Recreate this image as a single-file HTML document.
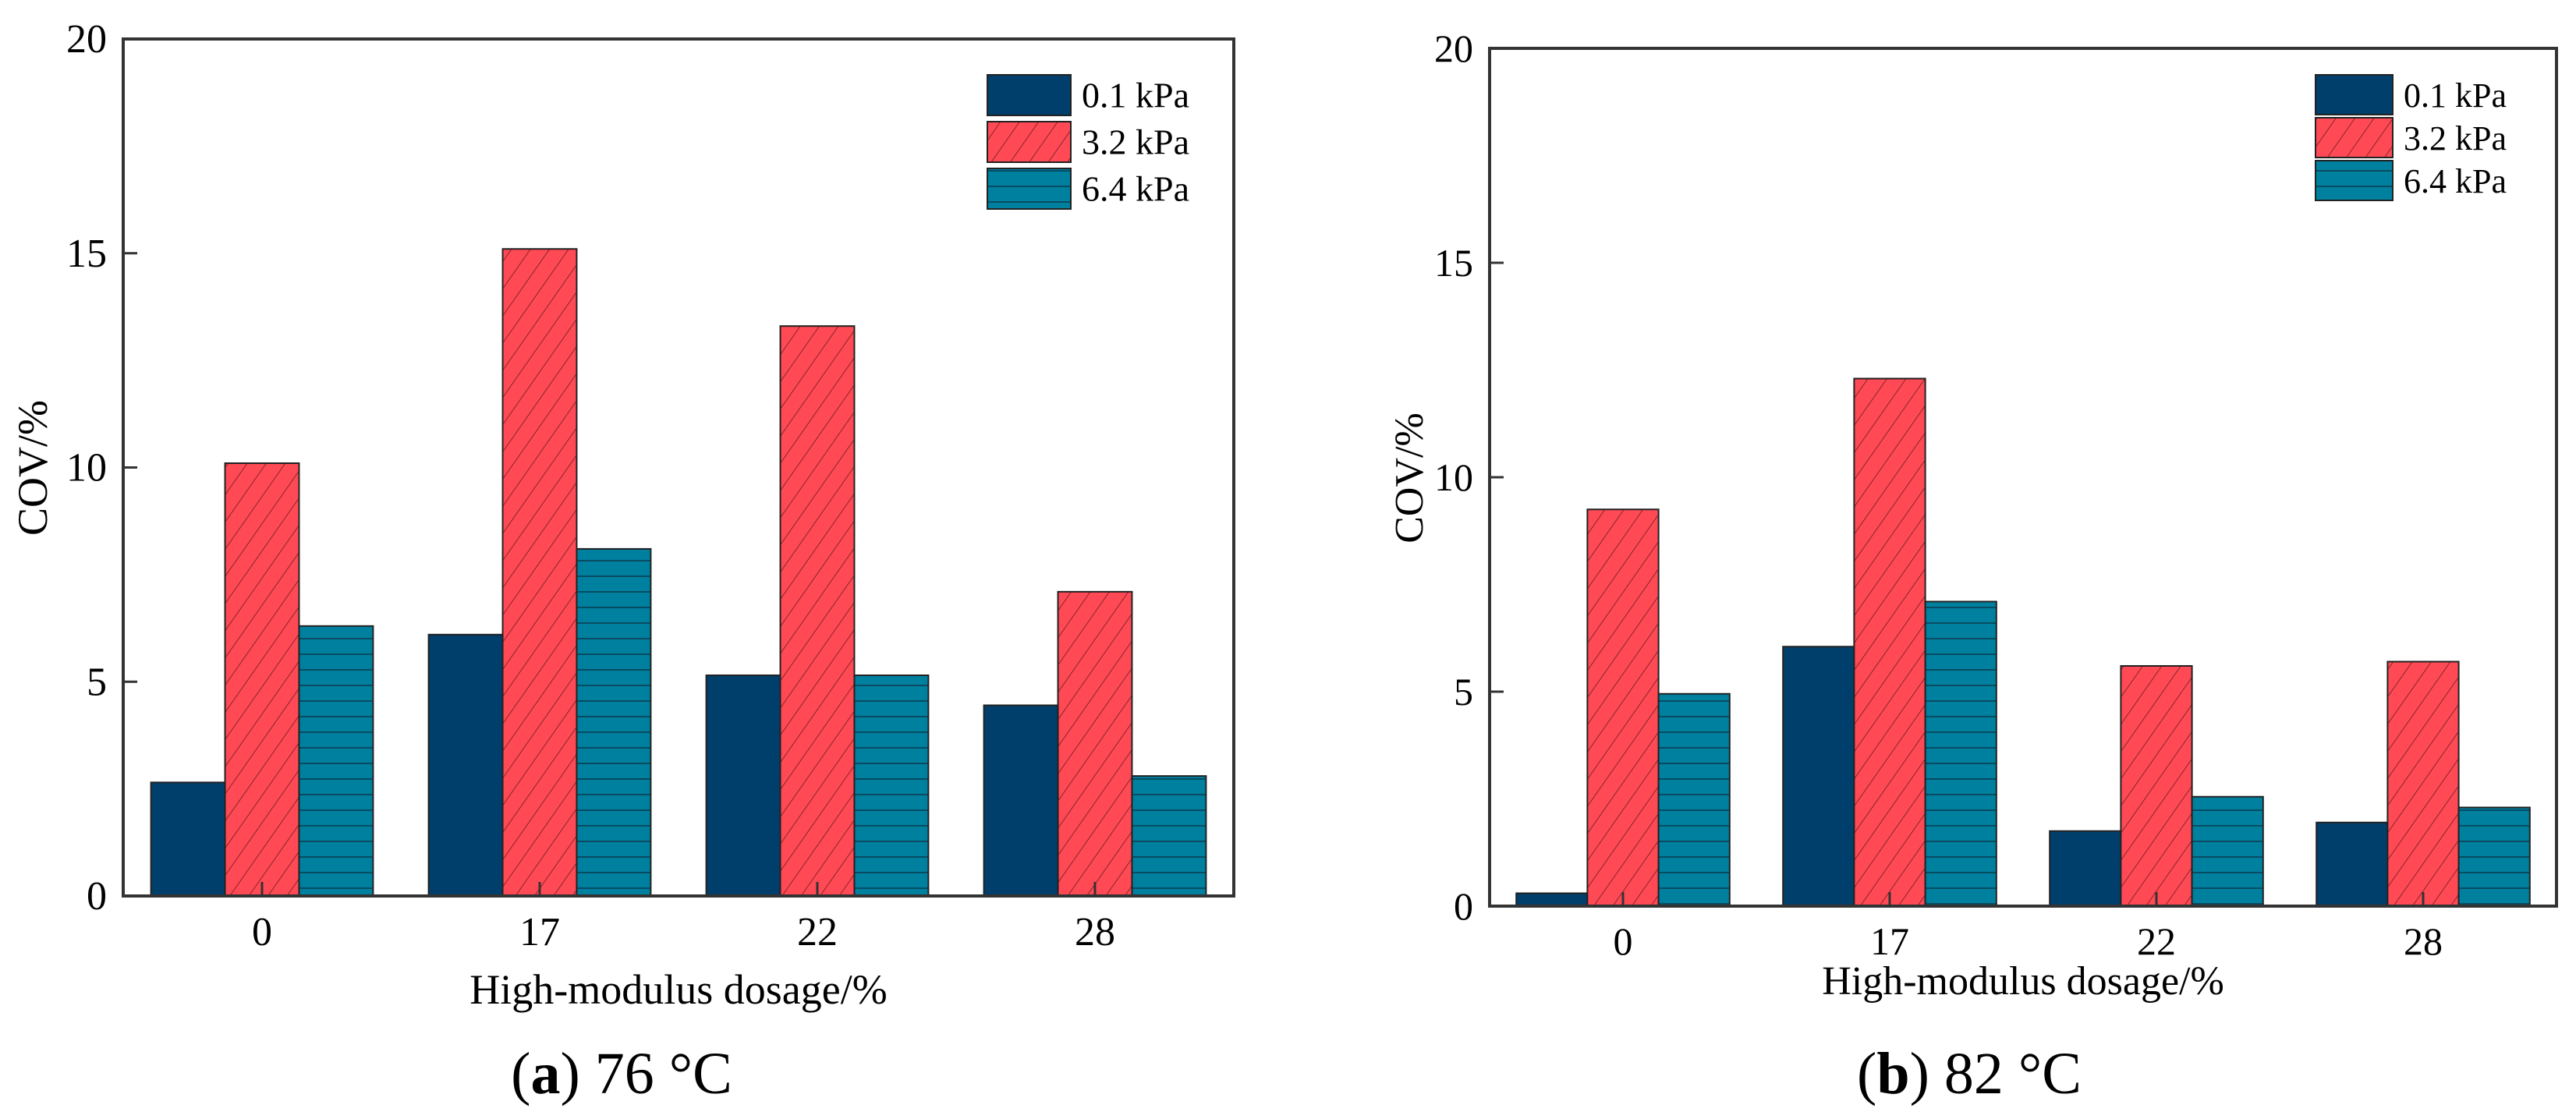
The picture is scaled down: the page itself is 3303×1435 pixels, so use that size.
<!DOCTYPE html>
<html><head><meta charset="utf-8"><style>
html,body{margin:0;padding:0;background:#fff;}
svg{display:block;font-family:"Liberation Serif",serif;}
</style></head><body>
<svg id="fig" width="3303" height="1435" viewBox="0 0 3303 1435" xmlns="http://www.w3.org/2000/svg">
<defs>
<pattern id="diag" patternUnits="userSpaceOnUse" width="20" height="20" patternTransform="rotate(35)">
<rect width="20" height="20" fill="#ff4a55"/><line x1="0" y1="0" x2="0" y2="20" stroke="#6a1a20" stroke-width="1.6"/>
</pattern>
<pattern id="horiz" patternUnits="userSpaceOnUse" width="20" height="20">
<rect width="20" height="20" fill="#00809f"/><line x1="0" y1="19" x2="20" y2="19" stroke="#0b3a4e" stroke-width="1.6"/>
</pattern>
</defs>
</svg>
<script>
const categories = ["0","17","22","28"];
const seriesNames = ["0.1 kPa","3.2 kPa","6.4 kPa"];
const leftS1 = [2.65, 6.1, 5.15, 4.45];
const leftS2 = [10.1, 15.1, 13.3, 7.1];
const leftS3 = [6.3, 8.1, 5.15, 2.8];
const rightS1 = [0.3, 6.05, 1.75, 1.95];
const rightS2 = [9.25, 12.3, 5.6, 5.7];
const rightS3 = [4.95, 7.1, 2.55, 2.3];
const yTicks = [0,5,10,15,20];

const NS="http://www.w3.org/2000/svg";
const svg=document.getElementById('fig');
const fills=["#003f6b","url(#diag)","url(#horiz)"];
function mk(tag,attrs,parent){const e=document.createElementNS(NS,tag);for(const k in attrs)e.setAttribute(k,attrs[k]);(parent||svg).appendChild(e);return e;}

function chart(cfg,series,prefix){
  const g=mk('g',{});
  
  
  const {x0,x1,yTop,yBot}=cfg;
  const yS=v=>yBot-(v/20)*(yBot-yTop);
  const band=(x1-x0)/categories.length;
  const bw=band*0.8/3;
  series.forEach((arr,si)=>{
    arr.forEach((v,ci)=>{
      const cx=x0+band*(ci+0.5);
      const r=mk('rect',{x:cx-1.5*bw+si*bw,y:yS(v),width:bw,height:yBot-yS(v),fill:fills[si],stroke:"#222",'stroke-width':2},g);
      
      
    });
  });
  const fr=mk('rect',{x:x0,y:yTop,width:x1-x0,height:yBot-yTop,fill:"none",stroke:"#333",'stroke-width':4},g);
  
  
  yTicks.forEach(t=>{
    const y=yS(t);
    mk('line',{x1:x0,x2:x0+18,y1:y,y2:y,stroke:"#333",'stroke-width':3},g);
    const tx=mk('text',{x:cfg.tickLabelX,y:y+17,'text-anchor':'end','font-size':cfg.tickFont},g);
    tx.textContent=t;
    
    
  });
  categories.forEach((c,ci)=>{
    const cx=x0+band*(ci+0.5);
    mk('line',{x1:cx,x2:cx,y1:yBot,y2:yBot-18,stroke:"#333",'stroke-width':3},g);
    const tx=mk('text',{x:cx,y:cfg.xLabelY,'text-anchor':'middle','font-size':cfg.tickFont},g);
    tx.textContent=c;
    
    
  });
  const xt=mk('text',{x:cfg.xTitleX,y:cfg.xTitleY,'text-anchor':'middle','font-size':cfg.titleFont},g);
  xt.textContent="High-modulus dosage/%";
  
  
  const yt=mk('text',{x:0,y:0,'text-anchor':'middle','font-size':cfg.titleFont,transform:`translate(${cfg.yTitleX},${cfg.yTitleY}) rotate(-90)`},g);
  yt.textContent="COV/%";
  
  
  seriesNames.forEach((n,si)=>{
    const ly=cfg.legY+si*cfg.legStep;
    const lr=mk('rect',{x:cfg.legX,y:ly,width:cfg.legW,height:cfg.legH,fill:fills[si],stroke:"#222",'stroke-width':2},g);
    
    
    const lt=mk('text',{x:cfg.legX+cfg.legW+14,y:ly+cfg.legH*0.8,'font-size':cfg.legFont},g);
    lt.textContent=n;
    
    
  });
  const cap=mk('text',{x:cfg.capX,y:1402,'text-anchor':'middle','font-size':76},g);
  cap.innerHTML=cfg.cap;
  
  
}

chart({x0:158,x1:1582,yTop:50,yBot:1149,tickLabelX:137,tickFont:52,xLabelY:1212,xTitleX:870,xTitleY:1287,titleFont:54,yTitleX:60,yTitleY:600,
  legX:1266,legY:96,legStep:60,legW:107,legH:52,legFont:46,capX:797,cap:'(<tspan font-weight="bold">a</tspan>) 76 °C'},
  [leftS1,leftS2,leftS3],'left');
chart({x0:1910,x1:3278,yTop:62,yBot:1162,tickLabelX:1889,tickFont:50,xLabelY:1224,xTitleX:2594,xTitleY:1275,titleFont:52,yTitleX:1824,yTitleY:613,
  legX:2969,legY:96,legStep:55,legW:99,legH:51,legFont:44,capX:2525,cap:'(<tspan font-weight="bold">b</tspan>) 82 °C'},
  [rightS1,rightS2,rightS3],'right');
</script>
</body></html>
